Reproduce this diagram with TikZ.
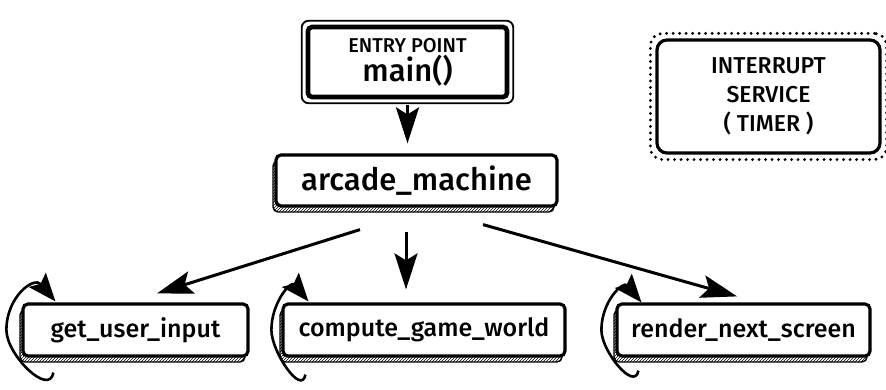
\documentclass[tikz,border=0pt]{standalone}
\usepackage{fontspec}
\setmainfont{Fira Sans}[UprightFont=* Medium]
\usetikzlibrary{arrows.meta,fit,patterns,positioning}

\begin{document}
\begin{tikzpicture}[
    x=1pt,y=1pt,
    procbox/.style={draw, line width=3.2pt, rounded corners=5pt, fill=white, inner sep=0pt, minimum height=52pt,
      preaction={draw, line width=1.4pt, pattern=north east lines, transform canvas={shift={(-3pt,-6pt)}}}},
    entrybox/.style={draw, line width=4.6pt, rounded corners=4pt, align=center, inner sep=0pt},
    entryframe/.style={draw, line width=1.8pt, rounded corners=7pt},
    timerbox/.style={draw, line width=3.2pt, rounded corners=10pt, align=center, inner sep=0pt},
    dotframe/.style={draw, line width=3.2pt, dash pattern=on 0pt off 6.5pt, line cap=round, rounded corners=12pt},
    arr/.style={-{Stealth[length=36pt,width=23pt,inset=7pt]}, line width=3pt},
    looparr/.style={-{Stealth[length=28pt,width=22pt,inset=5pt]}, line width=2.6pt}
  ]
  \useasboundingbox (0,0) rectangle (886,389);

  % entry point
  \node[entrybox, minimum width=199pt, minimum height=70pt] (entry) at (407.5,327)
    {{\fontsize{20}{22}\selectfont ENTRY POINT}\\[1pt]{\fontsize{31}{31}\selectfont main()}};
  \node[entryframe, fit=(entry), inner sep=4pt] (entryouter) {};

  % interrupt service
  \node[timerbox, minimum width=223pt, minimum height=113pt, font=\fontsize{23}{29}\selectfont] (timer) at (768.5,292.5)
    {INTERRUPT\\SERVICE\\( TIMER )};
  \node[dotframe, fit=(timer), inner sep=5pt] (timerframe) {};

  % main loop
  \node[procbox, minimum width=281pt, minimum height=51pt, font=\fontsize{31}{36}\selectfont] (arcade) at (416.5,208.5) {arcade\_machine};

  % tasks
  \node[procbox, minimum width=225pt, font=\fontsize{25}{30}\selectfont] (gui) at (135.5,59) {get\_user\_input};
  \node[procbox, minimum width=282pt, font=\fontsize{25}{30}\selectfont] (cgw) at (424,59) {compute\_game\_world};
  \node[procbox, minimum width=253pt, font=\fontsize{25}{30}\selectfont] (rns) at (743.5,59) {render\_next\_screen};

  % arrows
  \draw[arr, shorten <=6pt, shorten >=10pt] (entry.south) -- (entry.south |- arcade.north);
  \draw[arr] ([shift={(-56.5,-22)}]arcade.south) -- ([shift={(21.5,9)}]gui.north);
  \draw[arr] ([shift={(-10.5,-24)}]arcade.south) -- ([shift={(-18,13)}]cgw.north);
  \draw[arr] ([shift={(66.5,-17)}]arcade.south) -- ([shift={(-6.5,6)}]rns.north);

  % loops
  \draw[looparr] ([shift={(32,-15)}]gui.south west) to[out=-100,in=-90,looseness=1.0] ([xshift=-15]gui.west)
    to[out=90,in=130,looseness=1.5] ([shift={(34,1)}]gui.north west);
  \draw[looparr] ([shift={(24,-17)}]cgw.south west) to[out=-100,in=-90,looseness=1.0] ([xshift=-10]cgw.west)
    to[out=90,in=130,looseness=1.5] ([shift={(27,1)}]cgw.north west);
  \draw[looparr] ([shift={(23,-13)}]rns.south west) to[out=-100,in=-90,looseness=1.0] ([xshift=-14]rns.west)
    to[out=90,in=130,looseness=1.5] ([shift={(26,0)}]rns.north west);
\end{tikzpicture}
\end{document}
